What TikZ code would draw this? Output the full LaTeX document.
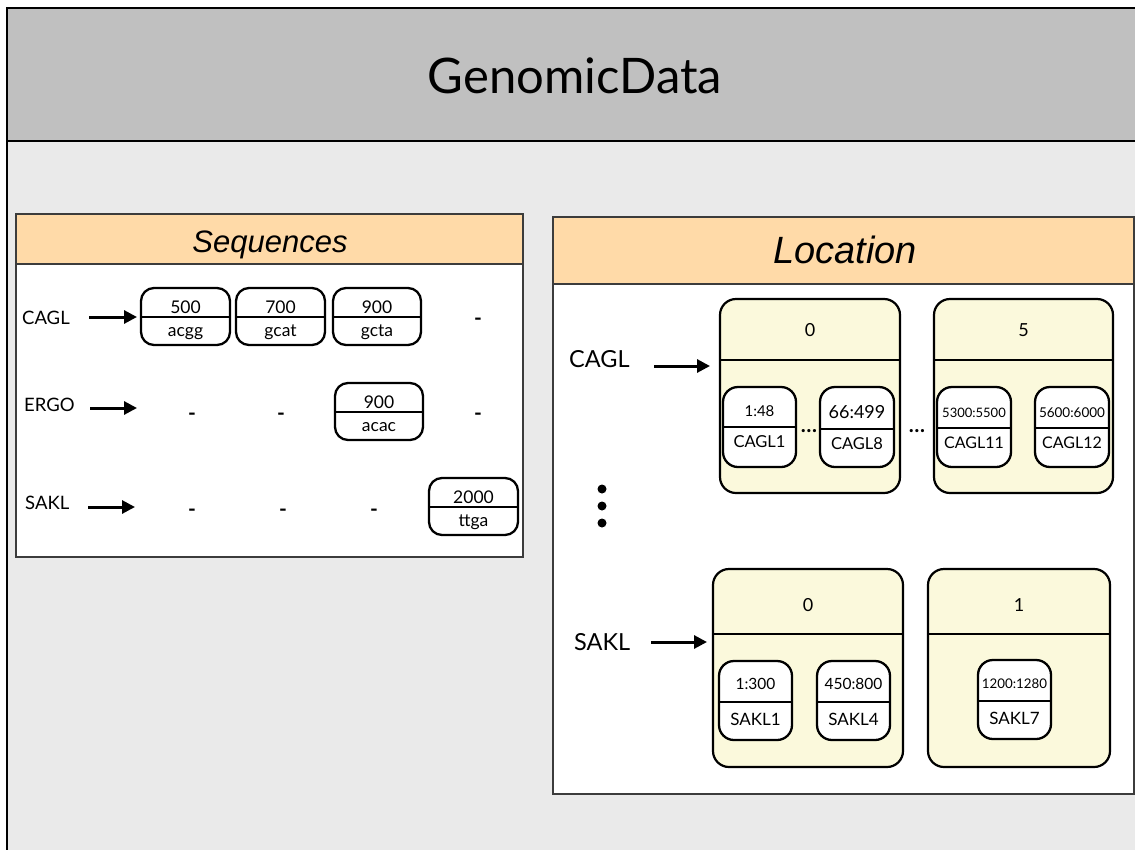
\documentclass[tikz,border=0pt]{standalone}
\usepackage{fontspec}
\setmainfont{Lato}
\newfontfamily\headfont{Liberation Sans}
\usetikzlibrary{arrows.meta}

\definecolor{titlegray}{RGB}{192,192,192}
\definecolor{canvas}{RGB}{234,234,234}
\definecolor{peach}{RGB}{255,218,168}
\definecolor{binfill}{RGB}{251,249,220}
\definecolor{panelline}{RGB}{60,60,60}

\newcommand\fs[1]{\fontsize{#1}{#1}\selectfont}

\tikzset{
  arr/.style={line width=3pt, -{Triangle[length=13pt,width=13pt]}},
  recbox/.style={draw, line width=2.3pt, fill=white, inner sep=0pt, outer sep=0pt},
  binbox/.style={draw, line width=2.2pt, fill=binfill, rounded corners=16pt, inner sep=0pt, outer sep=0pt},
  divider/.style={line width=2.2pt},
  txt/.style={anchor=base, inner sep=0pt, font=\fs{17.5}},
  lbl/.style={anchor=base west, inner sep=0pt, font=\fs{18.5}},
  dashmark/.style={anchor=base, inner sep=0pt, font=\bfseries\fs{21}},
  panel/.style={draw=panelline, line width=1.5pt},
}

% record box: name, x0, y0, x1, y1, divider y, corner radius, upper text, lower text
\def\topoff{4}
\def\botoff{19}
\newcommand\seqrec[9]{%
  \node[recbox, rounded corners=#7, anchor=north west,
        minimum width={#4-#2}, minimum height={#5-#3}] (#1) at (#2,#3) {};
  \draw[divider] (#2,#6) -- (#4,#6);
  \node[txt] (#1-top) at ({(#2+#4)/2},{#6-\topoff}) {#8};
  \node[txt] (#1-bot) at ({(#2+#4)/2},{#6+\botoff}) {#9};
}

% bin box: name, x0, y0, x1, y1, divider y, label baseline, label
\newcommand\binbox[8]{%
  \node[binbox, anchor=north west,
        minimum width={#4-#2}, minimum height={#5-#3}] (#1) at (#2,#3) {};
  \draw[divider] (#2,#6) -- (#4,#6);
  \node[txt, font=\fs{18}] (#1-lbl) at ({(#2+#4)/2},#7) {#8};
}

\begin{document}
\begin{tikzpicture}[x=1pt,y=-1pt]
\useasboundingbox (0,0) rectangle (1135,849);

% ---- outer frame ----
\fill[white] (0,0) rectangle (1135,849);
\fill[titlegray] (7,8) rectangle (1140,141);
\fill[canvas] (7,141) rectangle (1140,856);
\draw[line width=2pt] (7,856) -- (7,8) -- (1140,8);
\draw[line width=2.5pt] (7,141) -- (1140,141);
\node[anchor=base, inner sep=0pt, font=\fs{49}] (title) at (575,93) {GenomicData};

% ---- Sequences panel ----
\draw[panel, fill=white] (16,214) rectangle (523,557);
\fill[peach] (16,214) rectangle (523,264);
\draw[panel] (16,264) -- (523,264);
\draw[panel] (16,214) rectangle (523,557);
\node[anchor=base, inner sep=0pt, font=\headfont\itshape\fs{31}] (seqhead) at (270,252) {Sequences};

\node[lbl] (sq-cagl) at (22,324) {CAGL};
\node[lbl] (sq-ergo) at (24,411) {ERGO};
\node[lbl] (sq-sakl) at (25,509) {SAKL};

\seqrec{s1}{141}{288}{230}{345}{317}{13pt}{500}{acgg}
\seqrec{s2}{236}{288}{325}{345}{317}{13pt}{700}{gcat}
\seqrec{s3}{333}{288}{421}{345}{317}{13pt}{900}{gcta}
\seqrec{e3}{335}{383}{423}{440}{412}{13pt}{900}{acac}
\seqrec{k4}{429}{478}{518}{535}{507}{13pt}{2000}{ttga}

\coordinate (sq-cagl-from) at (89,317);
\coordinate (sq-ergo-from) at (90,408);
\coordinate (sq-ergo-to) at (137,408);
\coordinate (sq-sakl-from) at (88,507);
\coordinate (sq-sakl-to) at (135,507);
\draw[arr, shorten >=4pt] (sq-cagl-from) -- (sq-cagl-from -| s1.west);
\draw[arr] (sq-ergo-from) -- (sq-ergo-to);
\draw[arr] (sq-sakl-from) -- (sq-sakl-to);

\node[dashmark] (d-c4) at (478,325) {-};
\node[dashmark] (d-e1) at (192,420) {-};
\node[dashmark] (d-e2) at (281,420) {-};
\node[dashmark] (d-e4) at (478,420) {-};
\node[dashmark] (d-k1) at (192,516) {-};
\node[dashmark] (d-k2) at (283,516) {-};
\node[dashmark] (d-k3) at (374,516) {-};

% ---- Location panel ----
\draw[panel, fill=white] (553,217) rectangle (1134,794);
\fill[peach] (553,217) rectangle (1134,284);
\draw[panel] (553,284) -- (1134,284);
\draw[panel] (553,217) rectangle (1134,794);
\node[anchor=base, inner sep=0pt, font=\headfont\itshape\fs{38}] (lochead) at (845,263) {Location};

\node[lbl, font=\fs{23.5}] (lc-cagl) at (569,367) {CAGL};
\node[lbl, font=\fs{23.5}] (lc-sakl) at (574,650) {SAKL};

\binbox{b0}{720}{299}{900}{493}{360}{336}{0}
\binbox{b5}{934}{299}{1113}{493}{360}{336}{5}
\binbox{t0}{713}{569}{903}{767}{634}{611}{0}
\binbox{t1}{928}{569}{1110}{767}{634}{611}{1}

\def\topoff{11}
\def\botoff{20}
\seqrec{c1}{723}{387}{796}{467}{427}{15pt}{\fs{15}1:48}{\fs{16.5}CAGL1}
\seqrec{c8}{820}{387}{894}{467}{429}{15pt}{\fs{18}66:499}{\fs{16.5}CAGL8}
\seqrec{c11}{937}{387}{1011}{467}{428}{15pt}{\fs{13}5300:5500}{\fs{16}CAGL11}
\seqrec{c12}{1035}{387}{1109}{467}{428}{15pt}{\fs{13.5}5600:6000}{\fs{16}CAGL12}

\def\topoff{13}
\def\botoff{23}
\seqrec{k1}{719}{661}{792}{740}{702}{15pt}{\fs{15.5}1:300}{\fs{17}SAKL1}
\seqrec{k5}{817}{661}{890}{740}{702}{15pt}{\fs{15.5}450:800}{\fs{17}SAKL4}
\seqrec{k7}{978}{660}{1051}{739}{701}{15pt}{\fs{13.3}1200:1280}{\fs{17}SAKL7}

\node[txt, font=\bfseries\fs{21}] (gap1) at (809,432) {…};
\node[txt, font=\bfseries\fs{21}] (gap2) at (917,432) {…};

\coordinate (lc-cagl-from) at (654,366);
\coordinate (lc-sakl-from) at (651,642);
\draw[arr, shorten >=10pt] (lc-cagl-from) -- (lc-cagl-from -| b0.west);
\draw[arr, shorten >=6pt] (lc-sakl-from) -- (lc-sakl-from -| t0.west);

\foreach \yy in {489,506,523} \fill (602,\yy) circle (4.5);
\end{tikzpicture}
\end{document}
